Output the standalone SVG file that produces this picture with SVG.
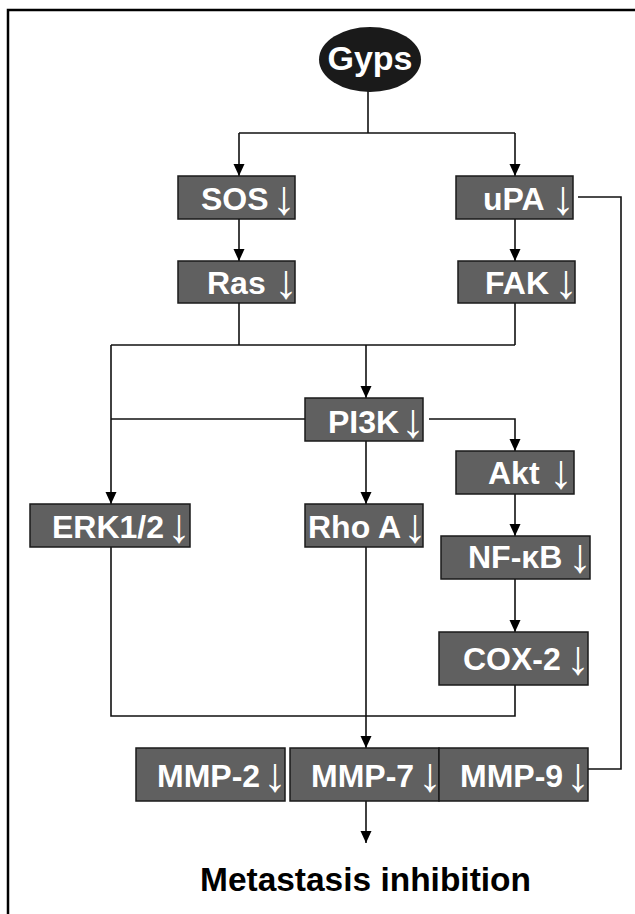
<svg xmlns="http://www.w3.org/2000/svg" width="635" height="914" viewBox="0 0 635 914">
<style>
.box{fill:#606060;stroke:#1a1a1a;stroke-width:1.5}
.lbl{font-family:"Liberation Sans",Arial,sans-serif;font-weight:bold;font-size:32px;fill:#fff}
.arr{font-family:"Liberation Sans",Arial,sans-serif;font-weight:bold;font-size:48px;fill:#fff}
.ln{fill:none;stroke:#111;stroke-width:1.6}
.frame{fill:none;stroke:#000;stroke-width:2.5}
</style>
<defs>
<marker id="ah" markerUnits="userSpaceOnUse" viewBox="0 0 12 12" markerWidth="12" markerHeight="12" refX="12" refY="6" orient="auto">
<path d="M0,0.5 L12,6 L0,11.5 z" fill="#000"/>
</marker>
</defs>
<rect width="635" height="914" fill="#fff"/>
<path class="frame" d="M8,914 V10 H635"/>

<g id="connectors">
<path class="ln" d="M368,91 V133"/>
<path class="ln" d="M239,133 H515"/>
<path class="ln" d="M239,133 V176" marker-end="url(#ah)"/>
<path class="ln" d="M515,133 V176" marker-end="url(#ah)"/>
<path class="ln" d="M239,219 V261" marker-end="url(#ah)"/>
<path class="ln" d="M515,219 V261" marker-end="url(#ah)"/>
<path class="ln" d="M239,303 V345"/>
<path class="ln" d="M515,303 V345"/>
<path class="ln" d="M111,345 H515"/>
<path class="ln" d="M366,345 V398" marker-end="url(#ah)"/>
<path class="ln" d="M111,345 V504" marker-end="url(#ah)"/>
<path class="ln" d="M111,419 H313" stroke-width="2"/>
<path class="ln" d="M429,419 H515 V451" marker-end="url(#ah)" stroke-width="2"/>
<path class="ln" d="M366,441 V504" marker-end="url(#ah)"/>
<path class="ln" d="M515,494 V536" marker-end="url(#ah)"/>
<path class="ln" d="M515,579 V632" marker-end="url(#ah)"/>
<path class="ln" d="M111,547 V716 H515 V685" stroke-width="2"/>
<path class="ln" d="M366,547 V748" marker-end="url(#ah)"/>
<path class="ln" d="M578,197 H621 V769 H588" stroke-width="2"/>
<path class="ln" d="M366,801 V843" marker-end="url(#ah)"/>
</g>

<g id="gyps">
<ellipse cx="370" cy="59.5" rx="51" ry="32.5" fill="#1a1a1a"/>
<text x="370" y="70" text-anchor="middle" font-family="'Liberation Sans',Arial,sans-serif" font-weight="bold" font-size="34" fill="#fff">Gyps</text>
</g>

<g id="sos">
<rect class="box" x="178" y="176" width="117" height="43"/>
<text class="lbl" x="201" y="210">SOS</text><text class="arr" x="272" y="214">↓</text>
</g>
<g id="upa">
<rect class="box" x="456" y="176" width="117" height="43"/>
<text class="lbl" x="483" y="210">uPA</text><text class="arr" x="551" y="214">↓</text>
</g>
<g id="ras">
<rect class="box" x="178" y="261" width="117" height="42"/>
<text class="lbl" x="207" y="294">Ras</text><text class="arr" x="274" y="298">↓</text>
</g>
<g id="fak">
<rect class="box" x="458" y="261" width="117" height="42"/>
<text class="lbl" x="485" y="294">FAK</text><text class="arr" x="554" y="298">↓</text>
</g>
<g id="pi3k">
<rect class="box" x="305" y="398" width="118" height="43"/>
<text class="lbl" x="328" y="433">PI3K</text><text class="arr" x="401" y="437">↓</text>
</g>
<g id="akt">
<rect class="box" x="456" y="451" width="118" height="43"/>
<text class="lbl" x="488" y="484">Akt</text><text class="arr" x="549" y="488">↓</text>
</g>
<g id="erk">
<rect class="box" x="30" y="504" width="160" height="43"/>
<text class="lbl" x="52" y="538">ERK1/2</text><text class="arr" x="167" y="542">↓</text>
</g>
<g id="rhoa">
<rect class="box" x="305" y="504" width="118" height="43"/>
<text class="lbl" x="308" y="538">Rho A</text><text class="arr" x="403" y="542">↓</text>
</g>
<g id="nfkb">
<rect class="box" x="441" y="536" width="149" height="43"/>
<text class="lbl" x="468" y="568">NF-κB</text><text class="arr" x="568" y="572">↓</text>
</g>
<g id="cox2">
<rect class="box" x="439" y="632" width="149" height="53"/>
<text class="lbl" x="463" y="670">COX-2</text><text class="arr" x="566" y="674">↓</text>
</g>
<g id="mmp2">
<rect class="box" x="136" y="748" width="149" height="53"/>
<text class="lbl" x="157" y="787">MMP-2</text><text class="arr" x="263" y="791">↓</text>
</g>
<g id="mmp7">
<rect class="box" x="290" y="748" width="149" height="53"/>
<text class="lbl" x="311" y="787">MMP-7</text><text class="arr" x="418" y="791">↓</text>
</g>
<g id="mmp9">
<rect class="box" x="439" y="748" width="149" height="53"/>
<text class="lbl" x="460" y="787">MMP-9</text><text class="arr" x="566" y="791">↓</text>
</g>
<g id="metastasis">
<text x="200" y="891" textLength="331" lengthAdjust="spacingAndGlyphs" font-family="'Liberation Sans',Arial,sans-serif" font-weight="bold" font-size="33.5" fill="#000">Metastasis inhibition</text>
</g>
</svg>
